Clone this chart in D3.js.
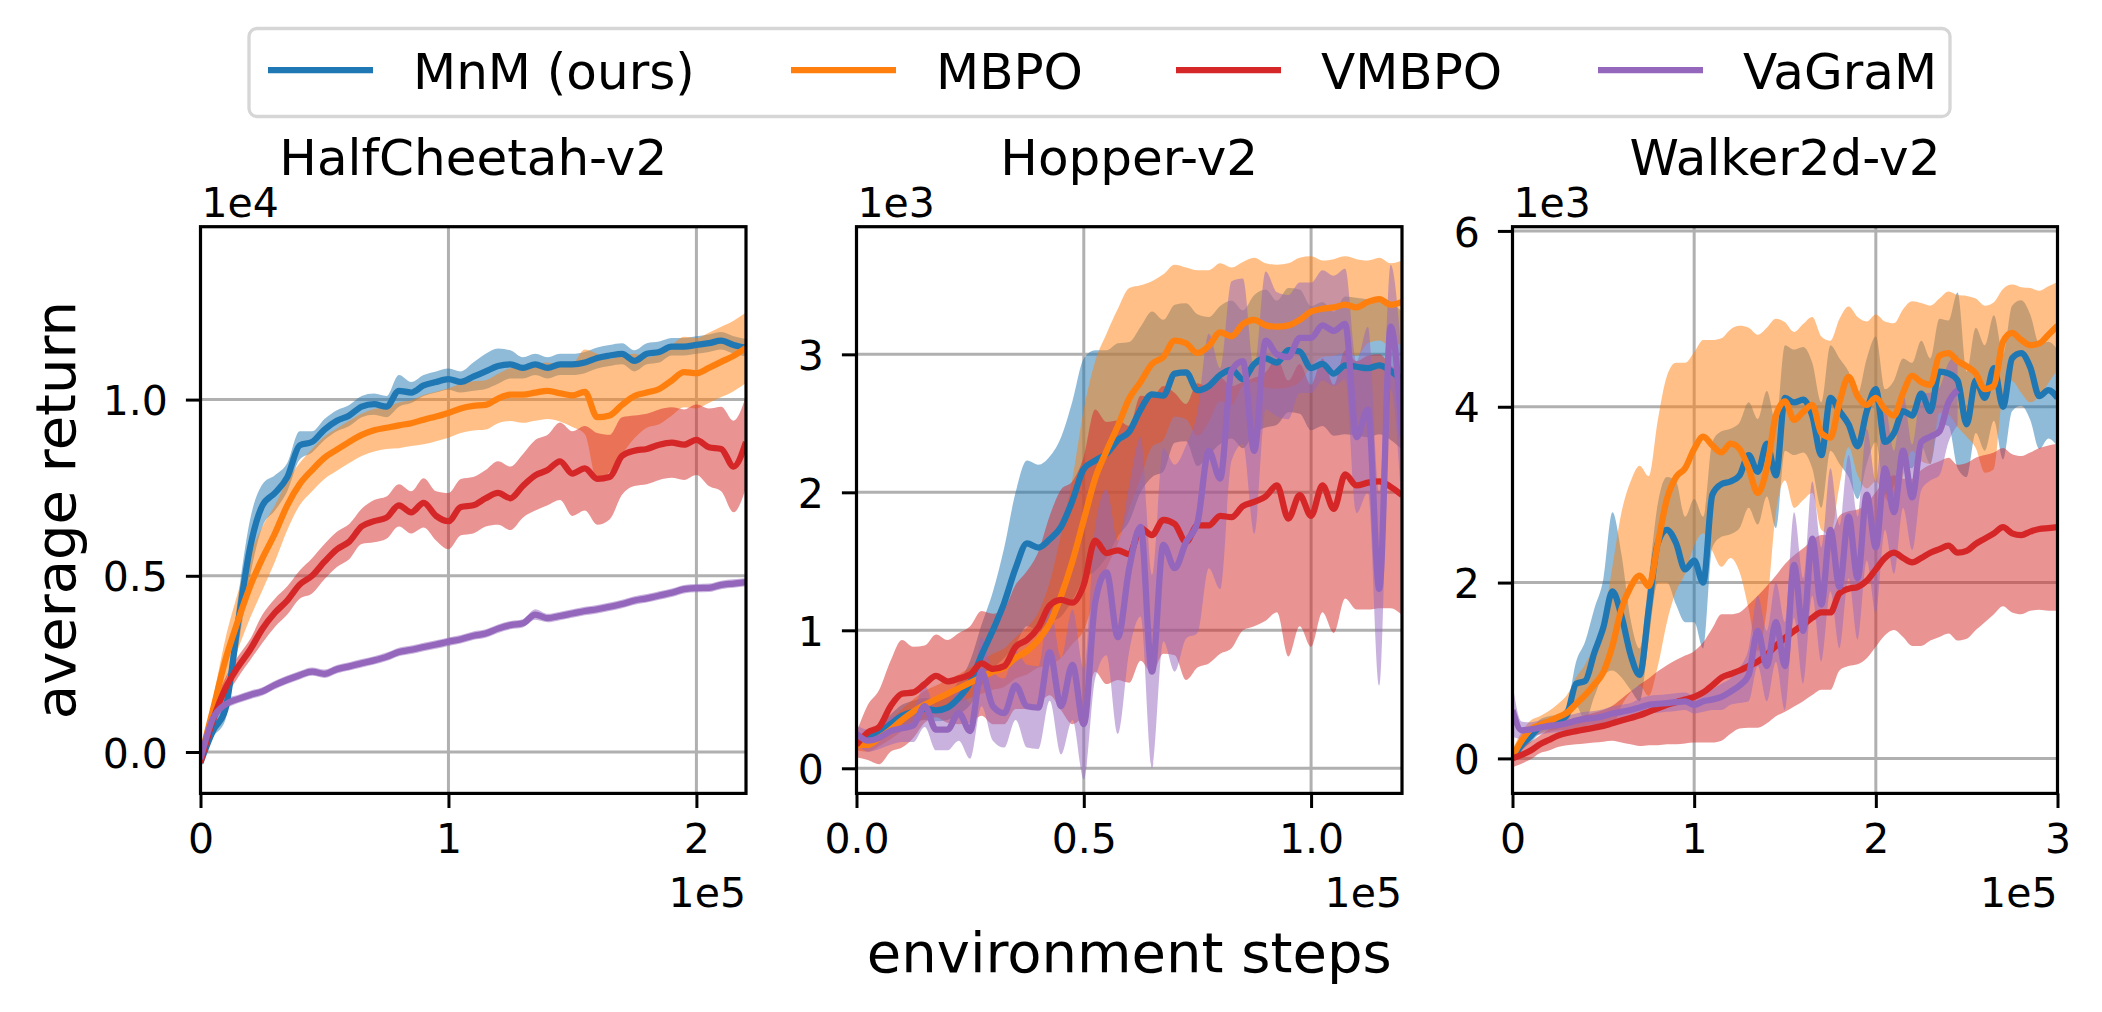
<!DOCTYPE html>
<html>
<head>
<meta charset="utf-8">
<script src="https://cdn.jsdelivr.net/npm/d3@7"></script>
<style>
  body { margin: 0; background: #fff; }
  text { font-family: "DejaVu Sans", sans-serif; fill: #000; }
</style>
</head>
<body>
<script>
// algorithms and their colours (tab10)
var algos = ["MnM (ours)", "MBPO", "VMBPO", "VaGraM"];
var colors = ["#1f77b4", "#ff7f0e", "#d62728", "#9467bd"];

// ---------- HalfCheetah-v2 : steps in 1e3, returns in 1e4 ----------
var hcSteps = [0,5,10,15,20,25,30,35,40,45,50,55,60,65,70,75,80,85,90,95,100,105,110,115,120,125,130,135,140,145,150,155,160,165,170,175,180,185,190,195,200,205,210,215,220];
var hcMnM = [-0.03,0.06,0.12,0.36,0.58,0.70,0.735,0.78,0.87,0.88,0.915,0.94,0.955,0.98,0.987,0.98,1.025,1.02,1.04,1.05,1.058,1.05,1.065,1.08,1.095,1.10,1.09,1.10,1.09,1.10,1.10,1.105,1.118,1.125,1.13,1.11,1.13,1.135,1.15,1.15,1.155,1.16,1.167,1.155,1.147];
var hcMnMSd = [0.02,0.02,0.03,0.07,0.08,0.06,0.05,0.04,0.04,0.03,0.03,0.03,0.03,0.03,0.03,0.03,0.045,0.03,0.03,0.03,0.03,0.03,0.04,0.05,0.05,0.04,0.03,0.03,0.03,0.03,0.03,0.03,0.03,0.03,0.03,0.03,0.03,0.03,0.025,0.025,0.025,0.025,0.025,0.025,0.025];
var hcMBPO = [-0.02,0.12,0.26,0.37,0.47,0.55,0.62,0.70,0.76,0.80,0.835,0.858,0.88,0.90,0.913,0.92,0.927,0.933,0.943,0.952,0.962,0.975,0.982,0.985,1.003,1.014,1.014,1.02,1.025,1.018,1.012,1.022,0.95,0.955,0.985,1.01,1.02,1.03,1.054,1.078,1.075,1.09,1.107,1.124,1.147];
var hcMBPOSd = [0.02,0.03,0.06,0.08,0.09,0.09,0.08,0.07,0.06,0.06,0.06,0.06,0.06,0.06,0.06,0.06,0.065,0.065,0.07,0.07,0.07,0.07,0.07,0.07,0.07,0.075,0.08,0.08,0.08,0.08,0.09,0.12,0.18,0.16,0.14,0.12,0.1,0.1,0.1,0.1,0.1,0.1,0.1,0.1,0.1];
var hcVMBPO = [-0.03,0.09,0.18,0.24,0.29,0.35,0.395,0.43,0.475,0.50,0.54,0.575,0.597,0.64,0.655,0.665,0.70,0.68,0.707,0.67,0.655,0.695,0.70,0.72,0.735,0.72,0.755,0.785,0.80,0.825,0.79,0.805,0.775,0.78,0.84,0.855,0.86,0.872,0.878,0.872,0.886,0.865,0.86,0.81,0.88];
var hcVMBPOSd = [0.02,0.03,0.03,0.03,0.03,0.04,0.04,0.04,0.04,0.05,0.05,0.05,0.05,0.05,0.06,0.06,0.06,0.06,0.07,0.07,0.08,0.08,0.08,0.08,0.09,0.09,0.09,0.1,0.1,0.11,0.12,0.12,0.13,0.12,0.11,0.1,0.1,0.1,0.1,0.1,0.1,0.11,0.12,0.13,0.13];
var hcVaGraM = [-0.02,0.095,0.135,0.15,0.162,0.172,0.19,0.205,0.218,0.228,0.222,0.235,0.243,0.252,0.26,0.27,0.284,0.29,0.298,0.305,0.313,0.32,0.33,0.336,0.35,0.36,0.365,0.39,0.38,0.386,0.393,0.40,0.405,0.412,0.42,0.43,0.436,0.444,0.452,0.462,0.465,0.466,0.474,0.478,0.482];
var hcVaGraMSd = [0.02,0.02,0.015,0.012,0.012,0.012,0.012,0.012,0.012,0.012,0.012,0.012,0.012,0.012,0.012,0.012,0.012,0.012,0.012,0.012,0.012,0.012,0.012,0.012,0.012,0.012,0.012,0.015,0.012,0.012,0.012,0.012,0.012,0.012,0.012,0.012,0.012,0.012,0.012,0.012,0.012,0.012,0.012,0.012,0.012];

// ---------- Hopper-v2 : steps in 1e3, returns in 1e3 ----------
var hpSteps = [0,2.5,5,7.5,10,12.5,15,17.5,20,22.5,25,27.5,30,32.5,35,37.5,40,42.5,45,47.5,50,52.5,55,57.5,60,62.5,65,67.5,70,72.5,75,77.5,80,82.5,85,87.5,90,92.5,95,97.5,100,102.5,105,107.5,110,112.5,115,117.5,120];
var hpMnM = [0.19,0.22,0.26,0.32,0.38,0.41,0.43,0.42,0.44,0.51,0.62,0.82,1.00,1.20,1.45,1.63,1.60,1.66,1.75,1.94,2.17,2.23,2.28,2.38,2.44,2.60,2.71,2.70,2.86,2.87,2.74,2.77,2.85,2.89,2.82,2.93,2.97,2.94,3.03,3.02,2.90,2.93,2.86,2.92,2.91,2.90,2.92,2.88,2.81];
var hpMnMSd = [0.03,0.05,0.06,0.07,0.08,0.08,0.08,0.08,0.09,0.12,0.16,0.22,0.28,0.4,0.55,0.6,0.6,0.6,0.65,0.72,0.8,0.8,0.75,0.7,0.65,0.6,0.6,0.55,0.5,0.5,0.55,0.5,0.5,0.5,0.5,0.5,0.5,0.45,0.45,0.45,0.45,0.45,0.45,0.5,0.5,0.5,0.5,0.5,0.5];
var hpMBPO = [0.17,0.17,0.22,0.28,0.35,0.41,0.46,0.50,0.54,0.58,0.62,0.66,0.70,0.73,0.80,0.85,0.93,1.05,1.25,1.50,1.80,2.10,2.30,2.48,2.68,2.80,2.93,2.98,3.10,3.08,3.01,3.06,3.16,3.13,3.22,3.25,3.21,3.20,3.21,3.25,3.31,3.33,3.34,3.36,3.34,3.38,3.40,3.36,3.38];
var hpMBPOSd = [0.04,0.05,0.06,0.07,0.08,0.09,0.1,0.1,0.1,0.1,0.11,0.12,0.13,0.14,0.15,0.17,0.2,0.3,0.45,0.6,0.8,0.85,0.85,0.85,0.8,0.7,0.6,0.6,0.55,0.55,0.6,0.55,0.5,0.5,0.45,0.45,0.45,0.45,0.45,0.45,0.4,0.35,0.35,0.35,0.35,0.3,0.3,0.3,0.3];
var hpVMBPO = [0.17,0.26,0.30,0.45,0.54,0.55,0.61,0.67,0.63,0.65,0.68,0.76,0.72,0.74,0.88,0.93,1.02,1.18,1.22,1.20,1.33,1.65,1.56,1.58,1.55,1.74,1.69,1.80,1.77,1.64,1.76,1.76,1.83,1.82,1.90,1.93,1.97,2.05,1.81,1.98,1.83,2.05,1.88,2.13,2.05,2.07,2.08,2.04,1.98];
var hpVMBPOSd = [0.09,0.2,0.27,0.33,0.39,0.33,0.28,0.3,0.3,0.33,0.35,0.38,0.4,0.42,0.45,0.5,0.55,0.65,0.8,0.88,0.93,0.95,0.95,0.94,0.93,0.96,1.0,0.97,0.95,1.0,1.03,1.0,1.0,0.95,0.9,0.9,0.9,0.92,1.0,0.95,0.95,0.92,0.9,0.9,0.9,0.92,0.92,0.88,0.87];
var hpVaGraM = [0.25,0.20,0.22,0.27,0.29,0.31,0.45,0.28,0.28,0.40,0.27,0.70,0.45,0.40,0.60,0.45,0.44,0.84,0.45,0.75,0.32,1.20,1.42,0.95,1.45,1.75,0.70,1.62,1.45,1.64,1.78,2.30,2.10,2.88,2.95,2.30,3.10,3.00,2.98,3.12,3.12,3.21,3.17,3.22,2.40,2.60,1.30,3.20,2.40];
var hpVaGraMSd = [0.06,0.08,0.08,0.1,0.1,0.12,0.15,0.15,0.15,0.2,0.2,0.25,0.25,0.25,0.25,0.3,0.3,0.35,0.35,0.4,0.4,0.55,0.6,0.7,0.6,0.65,0.7,0.7,0.75,0.7,0.8,0.85,0.8,0.65,0.6,0.6,0.5,0.45,0.45,0.4,0.4,0.4,0.4,0.4,0.55,0.6,0.7,0.45,0.55];

// ---------- Walker2d-v2 : steps in 1e3, returns in 1e3 ----------
var wkSteps = [0,5,10,15,20,25,30,35,40,45,50,55,60,65,70,75,80,85,90,95,100,105,110,115,120,125,130,135,140,145,150,155,160,165,170,175,180,185,190,195,200,205,210,215,220,225,230,235,240,245,250,255,260,265,270,275,280,285,290,295,300];
var wkMnM = [0.0,0.15,0.25,0.36,0.40,0.42,0.50,0.85,0.88,1.20,1.49,1.90,1.62,1.18,0.95,1.70,2.45,2.60,2.45,2.15,2.25,2.00,3.00,3.12,3.15,3.22,3.45,3.26,3.58,3.22,4.10,4.05,4.08,3.90,3.45,4.10,3.95,3.80,3.55,3.95,4.20,3.60,3.70,3.95,3.90,4.15,3.95,4.40,4.38,4.30,3.80,4.30,4.10,4.44,4.00,4.55,4.61,4.45,4.12,4.19,4.10];
var wkMnMSd = [0.05,0.06,0.07,0.08,0.08,0.08,0.1,0.25,0.45,0.5,0.55,0.9,0.7,0.4,0.3,0.35,0.45,0.6,0.7,0.6,0.7,0.75,0.6,0.6,0.6,0.6,0.6,0.6,0.6,0.6,0.6,0.6,0.6,0.6,0.6,0.6,0.6,0.6,0.6,0.6,0.6,0.6,0.6,0.6,0.6,0.6,0.6,0.6,0.6,1.0,0.6,0.6,0.6,0.6,0.6,0.6,0.6,0.6,0.6,0.55,0.55];
var wkMBPO = [0.02,0.2,0.33,0.38,0.42,0.47,0.52,0.62,0.72,0.84,0.98,1.28,1.70,1.95,2.08,1.96,2.45,2.95,3.20,3.30,3.52,3.66,3.56,3.48,3.58,3.52,3.30,3.02,3.30,3.90,4.06,3.85,3.94,4.02,3.70,3.65,4.05,4.34,4.12,4.02,4.10,3.97,3.90,4.16,4.35,4.28,4.25,4.58,4.61,4.52,4.46,4.38,4.20,4.24,4.74,4.84,4.76,4.70,4.72,4.82,4.92];
var wkMBPOSd = [0.08,0.1,0.1,0.1,0.12,0.15,0.2,0.3,0.35,0.45,0.6,0.9,1.1,1.2,1.25,1.25,1.4,1.4,1.3,1.2,1.1,1.1,1.2,1.3,1.3,1.4,1.6,1.8,1.6,1.1,0.9,1.0,1.0,1.0,1.1,1.1,0.95,0.8,0.9,0.95,0.95,1.0,1.05,0.95,0.85,0.9,0.9,0.65,0.7,0.75,0.8,0.85,0.95,0.95,0.6,0.55,0.6,0.65,0.6,0.55,0.5];
var wkVMBPO = [0.0,0.04,0.09,0.16,0.21,0.26,0.29,0.31,0.33,0.35,0.37,0.40,0.43,0.46,0.49,0.53,0.57,0.61,0.64,0.67,0.70,0.75,0.83,0.92,0.96,1.00,1.05,1.10,1.18,1.28,1.37,1.45,1.52,1.60,1.66,1.66,1.88,1.93,1.95,2.02,2.15,2.28,2.34,2.28,2.23,2.28,2.34,2.38,2.42,2.34,2.36,2.44,2.50,2.56,2.63,2.56,2.54,2.58,2.61,2.62,2.63];
var wkVMBPOSd = [0.1,0.1,0.1,0.1,0.12,0.13,0.14,0.15,0.16,0.17,0.18,0.2,0.25,0.3,0.35,0.38,0.42,0.45,0.48,0.5,0.52,0.57,0.65,0.72,0.68,0.66,0.7,0.75,0.78,0.8,0.84,0.86,0.87,0.88,0.88,0.88,0.88,0.88,0.88,0.88,0.88,0.88,0.88,0.9,0.95,1.0,1.0,1.0,1.0,1.0,1.0,0.98,0.95,0.92,0.9,0.9,0.9,0.9,0.92,0.94,0.95];
var wkVaGraM = [0.55,0.32,0.33,0.35,0.37,0.38,0.40,0.43,0.45,0.46,0.48,0.51,0.53,0.55,0.58,0.61,0.62,0.63,0.64,0.65,0.61,0.65,0.67,0.70,0.76,0.83,0.95,1.45,1.05,1.55,1.05,2.20,1.45,2.50,1.75,2.60,1.95,2.75,2.05,3.00,2.40,3.30,2.80,3.50,2.97,3.60,3.66,3.72,4.05,4.19,null,null,null,null,null,null,null,null,null,null,null];
var wkVaGraMSd = [0.3,0.1,0.08,0.08,0.08,0.08,0.08,0.08,0.08,0.08,0.08,0.08,0.08,0.08,0.1,0.1,0.1,0.1,0.1,0.1,0.1,0.12,0.12,0.15,0.15,0.2,0.3,0.4,0.4,0.45,0.5,0.6,0.6,0.65,0.65,0.7,0.7,0.7,0.7,0.75,0.75,0.7,0.7,0.65,0.6,0.55,0.5,0.5,0.45,0.4,null,null,null,null,null,null,null,null,null,null,null];

// tick values / labels
var hcXTicks = [0, 100, 200], hcXLabels = ["0", "1", "2"];
var hcYTicks = [0, 0.5, 1.0], hcYLabels = ["0.0", "0.5", "1.0"];
var hpXTicks = [0, 50, 100], hpXLabels = ["0.0", "0.5", "1.0"];
var hpYTicks = [0, 1, 2, 3], hpYLabels = ["0", "1", "2", "3"];
var wkXTicks = [0, 100, 200, 300], wkXLabels = ["0", "1", "2", "3"];
var wkYTicks = [0, 2, 4, 6], wkYLabels = ["0", "2", "4", "6"];

var panels = [
	{title: "HalfCheetah-v2", steps: hcSteps, mean: [hcMnM, hcMBPO, hcVMBPO, hcVaGraM], sd: [hcMnMSd, hcMBPOSd, hcVMBPOSd, hcVaGraMSd],
	 xDomain: [0, 220], yDomain: [-0.1175, 1.4906], xTicks: hcXTicks, xLabels: hcXLabels, yTicks: hcYTicks, yLabels: hcYLabels, yOffset: "1e4"},
	{title: "Hopper-v2", steps: hpSteps, mean: [hpMnM, hpMBPO, hpVMBPO, hpVaGraM], sd: [hpMnMSd, hpMBPOSd, hpVMBPOSd, hpVaGraMSd],
	 xDomain: [0, 120], yDomain: [-0.182, 3.925], xTicks: hpXTicks, xLabels: hpXLabels, yTicks: hpYTicks, yLabels: hpYLabels, yOffset: "1e3"},
	{title: "Walker2d-v2", steps: wkSteps, mean: [wkMnM, wkMBPO, wkVMBPO, wkVaGraM], sd: [wkMnMSd, wkMBPOSd, wkVMBPOSd, wkVaGraMSd],
	 xDomain: [0, 300], yDomain: [-0.398, 6.048], xTicks: wkXTicks, xLabels: wkXLabels, yTicks: wkYTicks, yLabels: wkYLabels, yOffset: "1e3"}
];

// layout (pixels)
var width = 2102, height = 1012;
var axTop = 226.7, axBottom = 793.4;
var axLeft = [200.5, 856.5, 1512.5];
var axRight = [746, 1402, 2057.5];

var svg = d3.select("body")
	.append("svg")
	.attr("width", width)
	.attr("height", height);

svg.append("rect").attr("width", width).attr("height", height).attr("fill", "#fff");

panels.forEach(function(p, pi) {
	var x = d3.scaleLinear().domain(p.xDomain).range([axLeft[pi], axRight[pi]]);
	var y = d3.scaleLinear().domain(p.yDomain).range([axBottom, axTop]);
	var g = svg.append("g");

	g.append("clipPath").attr("id", "clip" + pi)
		.append("rect")
		.attr("x", axLeft[pi]).attr("y", axTop)
		.attr("width", axRight[pi] - axLeft[pi]).attr("height", axBottom - axTop);

	// grid
	g.selectAll(".vgrid").data(p.xTicks).enter().append("line")
		.attr("x1", function(d) { return x(d); })
		.attr("x2", function(d) { return x(d); })
		.attr("y1", axTop).attr("y2", axBottom)
		.attr("stroke", "#b0b0b0").attr("stroke-width", 3);
	g.selectAll(".hgrid").data(p.yTicks).enter().append("line")
		.attr("x1", axLeft[pi]).attr("x2", axRight[pi])
		.attr("y1", function(d) { return y(d); })
		.attr("y2", function(d) { return y(d); })
		.attr("stroke", "#b0b0b0").attr("stroke-width", 3);

	var plot = g.append("g").attr("clip-path", "url(#clip" + pi + ")");
	var idx = d3.range(p.steps.length);

	// std bands first
	p.mean.forEach(function(m, si) {
		var s = p.sd[si];
		var area = d3.area()
			.defined(function(i) { return m[i] != null; })
			.x(function(i) { return x(p.steps[i]); })
			.y0(function(i) { return y(m[i] - s[i]); })
			.y1(function(i) { return y(m[i] + s[i]); })
			.curve(d3.curveMonotoneX);
		plot.append("path")
			.attr("d", area(idx))
			.attr("fill", colors[si])
			.attr("fill-opacity", 0.5);
	});

	// mean lines on top
	p.mean.forEach(function(m, si) {
		var line = d3.line()
			.defined(function(i) { return m[i] != null; })
			.x(function(i) { return x(p.steps[i]); })
			.y(function(i) { return y(m[i]); })
			.curve(d3.curveMonotoneX);
		plot.append("path")
			.attr("d", line(idx))
			.attr("fill", "none")
			.attr("stroke", colors[si])
			.attr("stroke-width", 6.25)
			.attr("stroke-linejoin", "round");
	});

	// axes
	var xAxis = d3.axisBottom(x)
		.tickValues(p.xTicks)
		.tickFormat(function(d, i) { return p.xLabels[i]; })
		.tickSize(14.6).tickPadding(15.6);
	var xg = g.append("g").attr("transform", "translate(0," + axBottom + ")").call(xAxis);

	var yAxis = d3.axisLeft(y)
		.tickValues(p.yTicks)
		.tickFormat(function(d, i) { return p.yLabels[i]; })
		.tickSize(14.6).tickPadding(18);
	var yg = g.append("g").attr("transform", "translate(" + axLeft[pi] + ",0)").call(yAxis);

	[xg, yg].forEach(function(a) {
		a.select(".domain").remove();
		a.selectAll(".tick line").attr("stroke", "#000").attr("stroke-width", 3);
		a.selectAll(".tick text")
			.attr("font-family", "DejaVu Sans")
			.attr("font-size", 41)
			.attr("fill", "#000");
	});
	yg.selectAll(".tick text").attr("dy", "0.37em");

	// spines
	g.append("rect")
		.attr("x", axLeft[pi]).attr("y", axTop)
		.attr("width", axRight[pi] - axLeft[pi]).attr("height", axBottom - axTop)
		.attr("fill", "none").attr("stroke", "#000").attr("stroke-width", 3.2);

	// title and offset texts
	g.append("text")
		.attr("x", (axLeft[pi] + axRight[pi]) / 2).attr("y", 175)
		.attr("text-anchor", "middle").attr("font-size", 50)
		.text(p.title);
	g.append("text")
		.attr("x", axLeft[pi] + 1).attr("y", 216.7)
		.attr("font-size", 41)
		.text(p.yOffset);
	g.append("text")
		.attr("x", axRight[pi]).attr("y", 906.7)
		.attr("text-anchor", "end").attr("font-size", 41)
		.text("1e5");
});

// axis labels
svg.append("text")
	.attr("x", (axLeft[1] + axRight[1]) / 2).attr("y", 971.7)
	.attr("text-anchor", "middle").attr("font-size", 56)
	.text("environment steps");
svg.append("text")
	.attr("transform", "translate(75," + (axTop + axBottom) / 2 + ") rotate(-90)")
	.attr("text-anchor", "middle").attr("font-size", 56)
	.text("average return");

// legend
var legendX = [268, 791, 1176, 1598];
var legend = svg.append("g");
legend.append("rect")
	.attr("x", 249).attr("y", 28.5).attr("width", 1701).attr("height", 88)
	.attr("rx", 8).attr("ry", 8)
	.attr("fill", "#fff").attr("stroke", "#d6d6d6").attr("stroke-width", 3.3);
var items = legend.selectAll(".item")
	.data(algos)
	.enter()
	.append("g");
items.append("line")
	.attr("x1", function(d, i) { return legendX[i]; })
	.attr("x2", function(d, i) { return legendX[i] + 105; })
	.attr("y1", 70).attr("y2", 70)
	.attr("stroke", function(d, i) { return colors[i]; })
	.attr("stroke-width", 6.25);
items.append("text")
	.attr("x", function(d, i) { return legendX[i] + 145; })
	.attr("y", 89.3)
	.attr("font-size", 50)
	.text(function(d) { return d; });
</script>
</body>
</html>
